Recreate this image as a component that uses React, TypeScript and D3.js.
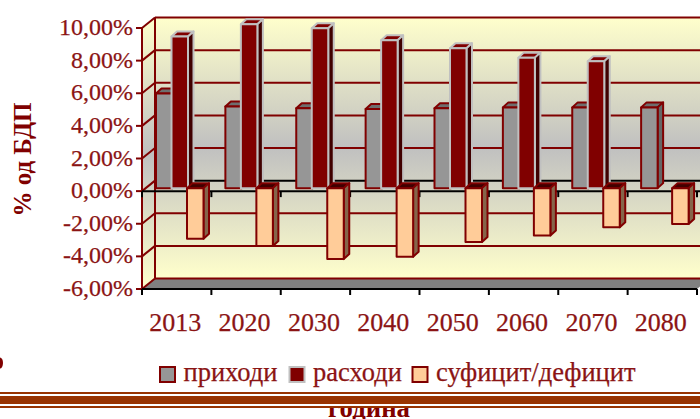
import * as d3 from "d3";

const years = ["2013", "2020", "2030", "2040", "2050", "2060", "2070", "2080"];
const revenue = [5.8, 5.0, 4.9, 4.85, 4.9, 4.95, 4.95, 4.95];
// no spending bar is drawn for 2080
const spending = [9.3, 10.05, 9.8, 9.06, 8.57, 8.0, 7.78, null];
const balance = [-3.1, -3.55, -4.35, -4.2, -3.3, -2.9, -2.4, -2.2];
const yTicks = [10, 8, 6, 4, 2, 0, -2, -4, -6];
const barNudge = [0, 0, 1.5, 1.5, 1, 0, 0, -0.5];

const legendItems = [
  { label: "приходи", fill: "#969696", stroke: "#800000", x: 160 },
  { label: "расходи", fill: "#800000", stroke: "#c0c0c0", x: 289.5 },
  { label: "суфицит/дефицит", fill: "#ffcc99", stroke: "#800000", x: 412.5 },
];

const textColor = "#8b1414";
const gridColor = "#800000";
const fontFamily = "'Liberation Serif', serif";

// 3d offsets of the chart
const depthX = 13;
const depthY = -10.5;
const barDepthX = 5.5;
const barDepthY = -5;
const barW = 16.5;
const barStep = 15.5;

const x = d3.scaleBand().domain(years).range([142, 697]);
const y = d3.scaleLinear().domain([-6, 10]).range([289, 28]);
// bars stand a bit deeper than the front plane
const barY = (v: number) => y(v) - 3;

const fmt = (v: number) => v.toFixed(2).replace(".", ",") + "%";

function Bar3d({ bx, v, fill, top, side, stroke }: any) {
  const y0 = barY(Math.max(v, 0));
  const y1 = barY(Math.min(v, 0));
  return (
    <g stroke={stroke} strokeWidth={2} strokeLinejoin="round">
      <path
        d={`M${bx},${y0}l${barDepthX},${barDepthY}h${barW}l${-barDepthX},${-barDepthY}z`}
        fill={top}
      />
      <path
        d={`M${bx + barW},${y0}l${barDepthX},${barDepthY}V${y1 + barDepthY}l${-barDepthX},${-barDepthY}z`}
        fill={side}
      />
      <rect x={bx} y={y0} width={barW} height={y1 - y0} fill={fill} />
    </g>
  );
}

export default function App() {
  const backX = 142 + depthX;
  const rightX = 697 + depthX;
  return (
    <svg
      width={700}
      height={419}
      style={{ position: "fixed", left: 0, top: 0, display: "block", background: "#fff" }}
      fontFamily={fontFamily}
    >
      <defs>
        <linearGradient id="wall" x1="0" y1="0" x2="0" y2="1">
          <stop offset="0" stopColor="#ffffcc" />
          <stop offset="0.5" stopColor="#c0c0c0" />
          <stop offset="1" stopColor="#ffffcc" />
        </linearGradient>
      </defs>

      {/* walls and floor */}
      <rect x={backX} y={y(10) + depthY} width={rightX - backX} height={y(-6) - y(10)} fill="url(#wall)" />
      <path
        d={`M142,${y(10)}L${backX},${y(10) + depthY}V${y(-6) + depthY}L142,${y(-6)}z`}
        fill="url(#wall)"
      />
      <path d={`M142,${y(-6)}L${backX},${y(-6) + depthY}H${rightX}L697,${y(-6)}z`} fill="#808080" />

      {/* gridlines */}
      {yTicks.map((t) => (
        <g key={t} stroke={t === 0 ? "#000" : gridColor} strokeWidth={2}>
          <line x1={backX} x2={700} y1={y(t) + depthY} y2={y(t) + depthY} />
          <line x1={142} x2={backX} y1={y(t)} y2={y(t) + depthY} stroke={gridColor} />
          <line x1={136} x2={142} y1={y(t)} y2={y(t)} stroke={gridColor} />
        </g>
      ))}
      <line x1={backX} x2={backX} y1={y(10) + depthY} y2={y(-6) + depthY} stroke={gridColor} strokeWidth={2} />
      <line x1={142} x2={142} y1={y(10)} y2={y(-6)} stroke={gridColor} strokeWidth={2} />

      {/* zero axis */}
      <line x1={142} x2={700} y1={y(0)} y2={y(0)} stroke="#000" strokeWidth={2} />
      <line x1={142} x2={697} y1={y(-6)} y2={y(-6)} stroke="#000" strokeWidth={2} />
      {years.concat("end").map((d, i) => {
        const tx = 142 + i * x.step();
        return (
          <g key={d} stroke="#000" strokeWidth={2}>
            <line x1={tx} x2={tx} y1={y(0)} y2={y(0) + 6} />
            <line x1={tx} x2={tx} y1={y(-6)} y2={y(-6) + 6} />
          </g>
        );
      })}

      {/* bars */}
      {years.map((d, i) => {
        const x0 = (x(d) as number) + 14 + barNudge[i];
        const sp = spending[i];
        return (
          <g key={d}>
            <Bar3d bx={x0} v={revenue[i]} fill="#969696" top="#6e6e6e" side="#666" stroke="#800000" />
            {sp != null && (
              <Bar3d bx={x0 + barStep} v={sp} fill="#800000" top="#800000" side="#400000" stroke="#c0c0c0" />
            )}
            <Bar3d bx={x0 + 2 * barStep} v={balance[i]} fill="#ffcc99" top="#400000" side="#85654a" stroke="#800000" />
          </g>
        );
      })}

      <g stroke={textColor} strokeWidth={0.25}>
        {/* y tick labels */}
        {yTicks.map((t) => (
          <text key={t} x={133} y={y(t) + 7} textAnchor="end" fontSize={24} fill={textColor}>
            {fmt(t)}
          </text>
        ))}

        {/* x tick labels */}
        {years.map((d) => (
          <text
            key={d}
            x={(x(d) as number) + x.bandwidth() / 2 - 1.5}
            y={331}
            textAnchor="middle"
            fontSize={26}
            fill={textColor}
          >
            {d}
          </text>
        ))}

        {/* legend */}
        {legendItems.map((l) => (
          <g key={l.label}>
            <rect x={l.x} y={367} width={15} height={15} fill={l.fill} stroke={l.stroke} strokeWidth={2} />
            <text x={l.x + 23.5} y={381} fontSize={26.5} fill={textColor}>
              {l.label}
            </text>
          </g>
        ))}
      </g>

      <text
        transform="translate(31,159.5) rotate(-90)"
        textAnchor="middle"
        fontSize={25}
        fontWeight="bold"
        fill="#800000"
      >
        % од БДП
      </text>

      {/* clipped remains of something left of the slide */}
      <ellipse cx={0} cy={363} rx={3} ry={5.5} fill="#800000" />

      <text x={369} y={417} textAnchor="middle" fontSize={26.8} fontWeight="bold" fill="#800000">
        година
      </text>

      {/* rules at the bottom of the slide */}
      <rect x={0} y={392} width={700} height={2} fill="#993300" />
      <rect x={0} y={394} width={700} height={2} fill="#fff" />
      <rect x={0} y={396} width={700} height={8} fill="#993300" />
      <rect x={0} y={404} width={700} height={2} fill="#fff" />
      <rect x={0} y={406} width={700} height={2} fill="#993300" />
    </svg>
  );
}
